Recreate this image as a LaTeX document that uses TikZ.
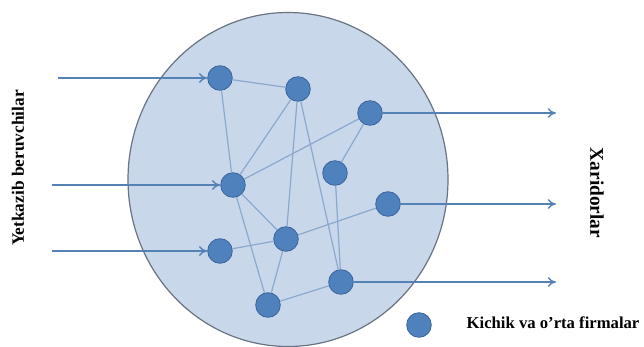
\documentclass[tikz,border=0pt]{standalone}
\usepackage{fontspec}
\setmainfont{Liberation Serif}
\usetikzlibrary{arrows.meta}
\definecolor{firmblue}{RGB}{79,129,189}
\definecolor{firmedge}{RGB}{60,100,155}
\definecolor{zonefill}{RGB}{200,216,234}
\definecolor{zoneedge}{RGB}{105,115,130}
\definecolor{linkblue}{RGB}{140,168,205}

\begin{document}
\begin{tikzpicture}[x=0.75pt, y=-0.75pt,
	firm/.style={circle, fill=firmblue, draw=firmedge, line width=0.6pt, minimum size=18.5pt, inner sep=0pt},
	link/.style={draw=linkblue, line width=0.9pt},
	flow/.style={draw=firmblue!85!gray, line width=1pt, -{To[length=2.2mm, width=2.6mm]}},
	side/.style={font=\bfseries\fontsize{13}{15}\selectfont}]
	\useasboundingbox (0,0) rectangle (644,347);
	\draw[color=zoneedge, fill=zonefill, line width=0.9pt] (288,179.5) ellipse [x radius=160, y radius=167];
	\node[firm] (f1) at (220,78) {};
	\node[firm] (f2) at (298,89) {};
	\node[firm] (f3) at (370,113) {};
	\node[firm] (f4) at (335,173) {};
	\node[firm] (f5) at (233,185) {};
	\node[firm] (f6) at (388,204) {};
	\node[firm] (f7) at (286,239) {};
	\node[firm] (f8) at (220,251) {};
	\node[firm] (f9) at (341,282) {};
	\node[firm] (f10) at (268,305) {};
	\foreach \a/\b in {f1/f2, f1/f5, f2/f5, f2/f7, f2/f9, f3/f5, f3/f4, f4/f9, f5/f7, f5/f10, f7/f8, f7/f6, f7/f10, f10/f9}
	  \path[link] (\a) -- (\b);
	\coordinate (in1) at (58,78);
	\coordinate (in2) at (52,185);
	\coordinate (in3) at (52,251);
	\coordinate (out1) at (556,113);
	\coordinate (out2) at (556,204);
	\coordinate (out3) at (556,282);
	\draw[flow] (in1) -- (f1);
	\draw[flow] (in2) -- (f5);
	\draw[flow] (in3) -- (f8);
	\draw[flow] (f3) -- (out1);
	\draw[flow] (f6) -- (out2);
	\draw[flow] (f9) -- (out3);
	\node[side, rotate=90] (supp) at (18,168) {Yetkazib beruvchilar};
	\node[side, rotate=-90, font=\bfseries\fontsize{14.5}{16}\selectfont] (cust) at (597,193) {Xaridorlar};
	\node[firm] (key) at (419,325) {};
	\node[anchor=west, font=\bfseries\fontsize{12.5}{14}\selectfont] (keytext) at (462,323) {Kichik va o’rta firmalar};
\end{tikzpicture}
\end{document}
